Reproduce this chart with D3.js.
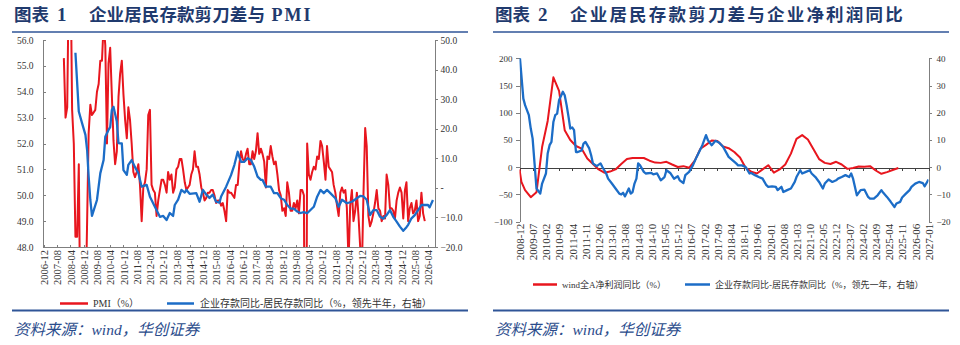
<!DOCTYPE html>
<html><head><meta charset="utf-8">
<script src="https://cdn.jsdelivr.net/npm/d3@7"></script>
<style>
body{margin:0;background:#fff;}
svg{display:block;}
.ax text{font-family:"Liberation Serif","Times New Roman",serif;fill:#333;}
.ax path,.ax line{stroke:#7f7f7f;shape-rendering:crispEdges;}
</style></head><body>
<svg id="c" width="960" height="345"></svg>
<script>
// ---------------- Chart 1 data ----------------
const pmiStart = "2007-12";
const pmiValues = [55.3,
 53.0,53.4,58.4,59.2,53.3,52.0,48.4,48.4,51.2,44.6,38.8,41.2,
 45.3,49.0,52.4,53.5,53.1,53.2,53.3,54.0,54.3,55.2,55.2,56.6,
 55.8,52.0,55.1,55.7,53.9,52.1,51.2,51.7,53.8,54.7,55.2,53.9,
 52.9,52.2,53.4,52.9,52.0,50.9,50.7,50.9,51.2,50.4,49.0,50.3,
 50.5,51.0,53.1,53.3,50.4,50.2,50.1,49.2,49.8,50.2,50.6,50.6,
 50.4,50.1,50.9,50.6,50.8,50.1,50.3,51.0,51.1,51.4,51.4,51.0,
 50.5,50.2,50.3,50.4,50.8,51.0,51.7,51.1,51.1,50.8,50.3,50.1,
 49.8,49.9,50.1,50.1,50.2,50.2,50.0,49.7,49.8,49.8,49.6,49.7,
 49.4,49.0,50.2,50.1,50.1,50.0,49.9,50.4,50.4,51.2,51.7,51.4,
 51.3,51.6,51.8,51.2,51.2,51.7,51.4,51.7,52.4,51.6,51.8,51.6,
 51.3,50.3,51.5,51.4,51.9,51.5,51.2,51.3,50.8,50.2,50.0,49.4,
 49.5,49.2,50.5,50.1,49.4,49.4,49.7,49.5,49.8,49.3,50.2,50.2,
 50.0,35.7,52.0,50.8,50.6,50.9,51.1,51.0,51.5,51.4,52.1,51.9,
 51.3,50.6,51.9,51.1,51.0,50.9,50.4,50.1,49.6,49.2,50.1,50.3,
 50.1,50.2,49.5,47.4,49.6,50.2,49.0,49.4,50.1,49.2,48.0,47.0,
 50.1,52.6,51.9,49.2,48.8,49.0,49.3,49.7,50.2,49.5,49.4,49.0,
 49.2,49.1,50.8,50.4,49.5,49.5,49.4,49.1,49.8,50.1,50.3,50.1,
 49.1,50.2,50.5,49.0,49.5,49.7,49.3,49.4,49.8,49.0,49.2,50.1,
 49.3,49.0];

const gap1Dates = ["2008-07","2008-09","2008-11","2009-01","2009-02","2009-03","2009-04","2009-05","2009-08","2009-10","2009-12",
 "2010-01","2010-03","2010-04","2010-05","2010-06","2010-08","2010-09","2010-11","2010-12","2011-02","2011-03","2011-05","2011-07",
 "2011-09","2011-11","2012-02","2012-04","2012-07","2012-10","2012-12","2013-02","2013-04","2013-06","2013-07","2013-09","2013-11",
 "2014-01","2014-02","2014-04","2014-08","2014-10","2014-12","2015-02","2015-04","2015-06","2015-08","2015-10","2015-11","2016-02",
 "2016-05","2016-07","2016-09","2016-11","2017-01","2017-03","2017-05","2017-07","2017-09","2017-11","2017-12","2018-02","2018-05",
 "2018-07","2018-09","2018-11","2019-01","2019-03","2019-05","2019-07","2019-09","2019-11","2020-01","2020-03","2020-05","2020-07",
 "2020-09","2020-11","2021-01","2021-03","2021-05","2021-08","2021-10","2021-12","2022-03","2022-06","2022-09","2022-11","2023-01",
 "2023-03","2023-05","2023-07","2023-09","2023-11","2024-01","2024-03","2024-05","2024-07","2024-09","2024-11","2025-01","2025-03",
 "2025-04","2025-06","2025-08","2025-10","2025-12","2026-02","2026-04","2026-05","2026-07"];
const gap1Values = [45.7,25.8,21.8,17.9,12.8,3.8,-4.1,-9.5,-4.1,4.9,9.4,
 17.3,19.6,20.5,26.3,27.4,22.4,15.1,15.0,6.0,4.4,7.8,9.4,7.0,
 5.0,0.4,1.0,-3.0,-6.4,-9.8,-9.5,-10.9,-8.5,-9.5,-5.8,-4.0,-0.7,
 -1.6,-0.7,-2.0,-1.8,-4.7,-0.7,-2.3,-3.4,-2.3,-4.7,-5.0,-2.9,0.4,
 4.3,7.7,12.2,8.8,8.8,10.0,9.4,7.2,3.8,2.7,2.7,0.4,0.4,
 -1.8,-1.8,-3.5,-4.0,-5.8,-7.0,-7.0,-8.0,-8.5,-8.2,-8.6,-7.5,-6.4,
 -3.0,-0.7,-1.8,-0.7,-1.8,-3.5,-6.4,-4.0,-5.2,-4.7,-3.5,-2.7,-2.9,
 -4.0,-9.2,-7.5,-7.5,-9.8,-10.4,-9.2,-7.5,-9.8,-11.4,-13.1,-14.5,-13.3,
 -12.5,-10.3,-9.2,-7.5,-5.8,-5.8,-5.8,-6.6,-4.1];

const xTicks1 = ["2006-12","2007-08","2008-04","2008-12","2009-08","2010-04","2010-12","2011-08","2012-04","2012-12",
 "2013-08","2014-04","2014-12","2015-08","2016-04","2016-12","2017-08","2018-04","2018-12","2019-08",
 "2020-04","2020-12","2021-08","2022-04","2022-12","2023-08","2024-04","2024-12","2025-08","2026-04"];
const pmiTicks = [48,49,50,51,52,53,54,55,56];
const gap1Ticks = [-20,-10,0,10,20,30,40,50];

// ---------------- Chart 2 data ----------------
const profitDates = ["2008-12","2009-01","2009-03","2009-06","2009-09","2009-12","2010-03","2010-06","2010-09","2010-12",
 "2011-03","2011-06","2011-09","2011-12","2012-03","2012-06","2012-09","2012-12","2013-03","2013-06","2013-09","2013-12",
 "2014-03","2014-06","2014-09","2014-12","2015-03","2015-06","2015-09","2015-12","2016-03","2016-06","2016-09","2016-12",
 "2017-03","2017-06","2017-09","2017-12","2018-03","2018-06","2018-09","2018-12","2019-03","2019-06","2019-09","2019-12",
 "2020-03","2020-06","2020-09","2020-12","2021-03","2021-06","2021-09","2021-12","2022-03","2022-06","2022-09","2022-12",
 "2023-03","2023-06","2023-09","2023-12","2024-03","2024-06","2024-09","2024-12","2025-03","2025-06","2025-09"];
const profitValues = [-4,-27,-42,-55,-46,37,85,165,140,68,
 50,39,34,16,6,-4,-10,-8,-4,6,15,17,
 17,17,12,8.5,8,10,5,0.5,2,-1,12,34,
 41,49,48,38,35,28,18,-1,-8,-11.6,-4,3.7,
 -10,-4,5,25,52,59,51,33,15,8,6,10,
 5,-3,-1.5,1.5,1,2,-6,-12,-9,-5,-1.5];

const gap2Dates = ["2008-12","2009-02","2009-03","2009-05","2009-06","2009-07","2009-08","2009-09","2009-11","2009-12",
 "2010-02","2010-03","2010-04","2010-05","2010-06","2010-07","2010-08","2010-09","2010-11","2010-12","2011-01","2011-02",
 "2011-03","2011-04","2011-05","2011-06","2011-07","2011-09","2011-10","2011-11","2012-01","2012-02","2012-03","2012-05",
 "2012-07","2012-08","2012-10","2012-11","2013-01","2013-03","2013-05","2013-06","2013-07","2013-08","2013-10","2013-11",
 "2013-12","2014-01","2014-02","2014-03","2014-04","2014-06","2014-07","2014-10","2014-11","2015-01","2015-03","2015-05",
 "2015-06","2015-08","2015-10","2015-12","2016-01","2016-03","2016-04","2016-06","2016-08","2016-10","2017-01","2017-03",
 "2017-04","2017-06","2017-08","2017-10","2017-12","2018-02","2018-03","2018-05","2018-07","2018-08","2018-10","2018-12",
 "2019-02","2019-03","2019-05","2019-07","2019-09","2019-11","2019-12","2020-02","2020-04","2020-05","2020-07","2020-08",
 "2020-10","2020-12","2021-02","2021-03","2021-05","2021-06","2021-08","2021-10","2021-11","2022-01","2022-03","2022-05",
 "2022-06","2022-08","2022-10","2022-12","2023-01","2023-03","2023-05","2023-07","2023-08","2023-09","2023-11","2024-01",
 "2024-03","2024-05","2024-06","2024-08","2024-10","2024-12","2025-01","2025-03","2025-05","2025-07","2025-08","2025-10",
 "2025-11","2026-01","2026-03","2026-04","2026-06","2026-08","2026-10","2026-11","2027-01"];
const gap2Values = [42,25.2,22.8,19.1,14.2,10.5,1.4,-7.8,-9.7,-6,
 -2.3,5,8.1,9.3,16.6,19.1,19.7,24.6,27.7,26.4,22.8,18.5,
 14.2,14.6,13.6,5.6,5.6,6.2,8.7,9.3,6.9,4.4,1.4,0.4,
 1.4,0.1,-2.3,-4.2,-6,-7.8,-9.7,-10,-9.4,-10.7,-7.8,-9.7,
 -9.1,-6,-4.2,1.4,0.7,-1.7,-2.3,-2.1,-2.6,-2.3,-4.8,-3.6,
 -1.1,-2.1,-4.2,-3.3,-4.8,-5.8,-2.9,-1.7,0.7,3.8,8.1,11.8,
 9.9,8.1,9.7,9.0,7.5,5,3.8,2.6,1.4,0.7,0.7,0.1,
 -2.3,-2.1,-2.9,-3.6,-4.2,-6.6,-7.2,-7,-7.2,-8.4,-7.2,-9.1,
 -8.4,-7.8,-5.4,-3.6,-1.1,-2.3,-1.7,-1.1,-2.3,-3.6,-5.4,-7.8,
 -6,-4.5,-5.4,-4.8,-4.2,-3.6,-2.9,-3.6,-2.3,-4.2,-10.3,-8.4,
 -8.2,-10.9,-11.5,-11.5,-10.3,-8.4,-9.4,-10.9,-12.7,-14.6,-13.3,-12.7,
 -11.1,-9.7,-8.4,-7.2,-6,-5.4,-5.8,-7,-4.5];

const xTicks2 = ["2008-12","2009-07","2010-02","2010-09","2011-04","2011-11","2012-06","2013-01","2013-08","2014-03",
 "2014-10","2015-05","2015-12","2016-07","2017-02","2017-09","2018-04","2018-11","2019-06","2020-01","2020-08",
 "2021-03","2021-10","2022-05","2022-12","2023-07","2024-02","2024-09","2025-04","2025-11","2026-06","2027-01"];
const profitTicks = [-100,-50,0,50,100,150,200];
const gap2Ticks = [-20,-10,0,10,20,30,40];

// ---------------- drawing ----------------
const RED = "#E8161E", BLUE = "#1C6DC7", NAVY = "#1F3A6E", RULE = "#2F5597";
const svg = d3.select("#c");
const parse = d3.timeParse("%Y-%m");
const fmt = d3.timeFormat("%Y-%m");
const serif = '"Liberation Serif","Times New Roman","Noto Sans CJK SC",serif';
const cjk = '"Liberation Serif","Noto Sans CJK SC",sans-serif';

function header(x0, x1, num, title, ls){
  const g = svg.append("g");
  g.append("text").attr("x", x0 + 2).attr("y", 21).text("图表")
    .style("font-family", '"Noto Sans CJK SC"').style("font-weight", 700).style("font-size", "17.5px").attr("fill", NAVY);
  g.append("text").attr("x", x0 + 45).attr("y", 21).text(num)
    .style("font-family", serif).style("font-weight", 700).style("font-size", "19px").attr("fill", NAVY);
  const t = g.append("text").attr("x", x0 + 77).attr("y", 21)
    .style("font-family", '"Liberation Serif","Noto Sans CJK SC"').style("font-weight", 700).style("font-size", "17.5px")
    .style("letter-spacing", ls + "px").attr("fill", NAVY);
  title.forEach(p => t.append("tspan").text(p.t).style("letter-spacing", (p.ls != null ? p.ls : ls) + "px").style("font-size", p.fs || null));
  g.append("line").attr("x1", x0).attr("x2", x1).attr("y1", 32).attr("y2", 32).attr("stroke", RULE).attr("stroke-width", 1.6);
  g.append("line").attr("x1", x0).attr("x2", x1).attr("y1", 310.5).attr("y2", 310.5).attr("stroke", RULE).attr("stroke-width", 2);
  g.append("text").attr("x", x0 + 2).attr("y", 335).text("资料来源：wind，华创证券")
    .style("font-family", cjk).style("font-style", "italic").style("font-size", "15.5px").attr("fill", "#2B4C8C");
}
header(12, 468, "1", [{t:"企业居民存款剪刀差与"},{t:" PMI", ls:2, fs:"18px"}], 0.1);
header(493, 949, "2", [{t:"企业居民存款剪刀差与企业净利润同比"}], 2.2);

function rotateLabels(sel, pad){
  sel.selectAll("text").attr("text-anchor", "end").attr("transform", "rotate(-90)")
    .attr("x", -pad).attr("y", 0).attr("dy", "0.35em");
}

// ---------- Chart 1 ----------
(function(){
  const L = 42.5, R = 434.5, T = 40, B = 247;
  const x = d3.scaleTime().domain([parse("2006-12"), parse("2026-04")]).range([44, 428]);
  const yL = d3.scaleLinear().domain([48, 56]).range([B, T]);
  const yR = d3.scaleLinear().domain([-20, 50]).range([B, T]);

  svg.append("clipPath").attr("id", "clip1").append("rect").attr("x", L).attr("y", T).attr("width", R - L).attr("height", B - T);

  const ga = svg.append("g").attr("class", "ax").attr("transform", `translate(${L},0)`)
    .call(d3.axisLeft(yL).tickValues(pmiTicks).tickFormat(d3.format(".1f")).tickSizeInner(-3).tickSizeOuter(0).tickPadding(9));
  ga.selectAll("text").style("font-size", "9.5px");
  const gr = svg.append("g").attr("class", "ax").attr("transform", `translate(${R},0)`)
    .call(d3.axisRight(yR).tickValues(gap1Ticks).tickFormat(d => d === 0 ? "-" : d3.format(".1f")(d)).tickSizeInner(3).tickSizeOuter(0).tickPadding(3));
  gr.selectAll("text").style("font-size", "9.5px");
  const gb = svg.append("g").attr("class", "ax").attr("transform", `translate(0,${B + 0.5})`)
    .call(d3.axisBottom(x).tickValues(xTicks1.map(parse)).tickFormat(fmt).tickSizeInner(-3).tickSizeOuter(0));
  gb.select(".domain").attr("d", `M${L},0H${R}`);
  rotateLabels(gb, 2.5);
  gb.selectAll("text").style("font-size", "10.5px");

  const pmi = d3.timeMonth.range(parse(pmiStart), d3.timeMonth.offset(parse(pmiStart), pmiValues.length))
    .map((d, i) => [d, pmiValues[i]]);
  const gap = gap1Dates.map((d, i) => [parse(d), gap1Values[i]]);

  const plot = svg.append("g").attr("clip-path", "url(#clip1)");
  plot.append("path").datum(pmi).attr("fill", "none").attr("stroke", RED).attr("stroke-width", 2)
    .attr("stroke-linejoin", "round").attr("d", d3.line().x(d => x(d[0])).y(d => yL(d[1])));
  plot.append("path").datum(gap).attr("fill", "none").attr("stroke", BLUE).attr("stroke-width", 2.3)
    .attr("stroke-linejoin", "round").attr("d", d3.line().x(d => x(d[0])).y(d => yR(d[1])));

  const lg = svg.append("g").style("font-family", cjk).style("font-size", "10px").attr("fill", "#333");
  lg.append("line").attr("x1", 60).attr("x2", 88).attr("y1", 303.5).attr("y2", 303.5).attr("stroke", RED).attr("stroke-width", 2.5);
  lg.append("text").attr("x", 93).attr("y", 307).text("PMI（%）");
  lg.append("line").attr("x1", 167).attr("x2", 194).attr("y1", 303.5).attr("y2", 303.5).attr("stroke", BLUE).attr("stroke-width", 2.5);
  lg.append("text").attr("x", 200).attr("y", 307).text("企业存款同比-居民存款同比（%，领先半年，右轴）");
})();

// ---------- Chart 2 ----------
(function(){
  const L = 519.5, R = 928.5, T = 58.3, B = 221.7;
  const x = d3.scaleTime().domain([parse("2008-12"), parse("2027-01")]).range([L, R]);
  const yL = d3.scaleLinear().domain([-100, 200]).range([B, T]);
  const yR = d3.scaleLinear().domain([-20, 40]).range([B, T]);

  svg.append("clipPath").attr("id", "clip2").append("rect").attr("x", L).attr("y", T).attr("width", R - L).attr("height", B - T);

  const ga = svg.append("g").attr("class", "ax").attr("transform", `translate(${L},0)`)
    .call(d3.axisLeft(yL).tickValues(profitTicks).tickSizeInner(4).tickSizeOuter(0).tickPadding(3));
  ga.selectAll("text").style("font-size", "9px");
  const gr = svg.append("g").attr("class", "ax").attr("transform", `translate(${R},0)`)
    .call(d3.axisRight(yR).tickValues(gap2Ticks).tickSizeInner(3).tickSizeOuter(0).tickPadding(5));
  gr.selectAll("text").style("font-size", "9px");

  const y0 = Math.round(yL(0)) + 0.5;
  const gz = svg.append("g").attr("class", "ax").attr("transform", `translate(0,${y0})`)
    .call(d3.axisBottom(x).tickValues(xTicks2.map(parse)).tickFormat("").tickSizeInner(3).tickSizeOuter(0));
  gz.select(".domain").style("stroke", "#404040");
  gz.selectAll("line").style("stroke", "#404040");

  const gb = svg.append("g").attr("class", "ax").attr("transform", `translate(0,${B})`)
    .call(d3.axisBottom(x).tickValues(xTicks2.map(parse)).tickFormat(fmt).tickSize(0));
  gb.select(".domain").remove();
  rotateLabels(gb, 2);
  gb.selectAll("text").style("font-size", "11px");

  const prof = profitDates.map((d, i) => [parse(d), profitValues[i]]);
  const gap = gap2Dates.map((d, i) => [parse(d), gap2Values[i]]);
  const plot = svg.append("g").attr("clip-path", "url(#clip2)");
  plot.append("path").datum(prof).attr("fill", "none").attr("stroke", RED).attr("stroke-width", 2)
    .attr("stroke-linejoin", "round").attr("d", d3.line().x(d => x(d[0])).y(d => yL(d[1])));
  plot.append("path").datum(gap).attr("fill", "none").attr("stroke", BLUE).attr("stroke-width", 2.3)
    .attr("stroke-linejoin", "round").attr("d", d3.line().x(d => x(d[0])).y(d => yR(d[1])));

  const lg = svg.append("g").style("font-family", cjk).style("font-size", "9px").attr("fill", "#333");
  lg.append("line").attr("x1", 533).attr("x2", 557).attr("y1", 284.5).attr("y2", 284.5).attr("stroke", RED).attr("stroke-width", 2.5);
  lg.append("text").attr("x", 562).attr("y", 288).text("wind全A净利润同比（%）");
  lg.append("line").attr("x1", 685).attr("x2", 710).attr("y1", 284.5).attr("y2", 284.5).attr("stroke", BLUE).attr("stroke-width", 2.5);
  lg.append("text").attr("x", 715).attr("y", 288).text("企业存款同比-居民存款同比（%，领先一年，右轴）");
})();
</script></body></html>
